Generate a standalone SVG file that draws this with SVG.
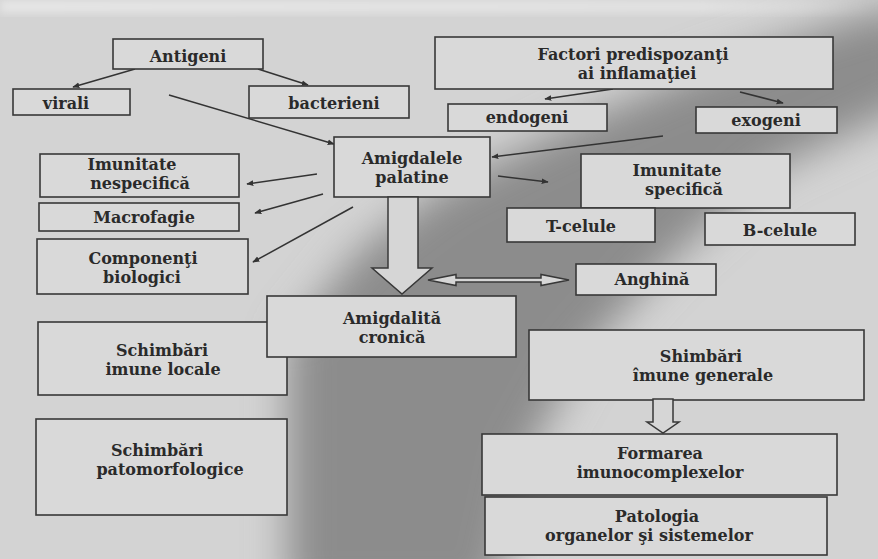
<svg xmlns="http://www.w3.org/2000/svg" width="878" height="559" viewBox="0 0 878 559">
<defs>
<style>
.box{fill:#d9d9d9;stroke:#383838;stroke-width:1.6}
.t{font-family:"DejaVu Serif","Liberation Serif",serif;font-weight:bold;font-size:16px;fill:#2a2a2a;text-anchor:middle}
.ln{stroke:#333;stroke-width:1.5;fill:none;marker-end:url(#ah)}
.hollow{fill:#d6d6d6;stroke:#383838;stroke-width:1.5;stroke-linejoin:miter}
</style>
<marker id="ah" viewBox="0 0 10 10" refX="9" refY="5" markerWidth="7" markerHeight="7" markerUnits="userSpaceOnUse" orient="auto">
<path d="M0,1 L10,5 L0,9 Z" fill="#333"/>
</marker>
<linearGradient id="top" x1="0" y1="0" x2="1" y2="0">
<stop offset="0" stop-color="#e6e6e6"/>
<stop offset="0.8" stop-color="#e2e2e2"/>
<stop offset="1" stop-color="#e2e2e2" stop-opacity="0"/>
</linearGradient>
<filter id="blur" x="-30%" y="-30%" width="160%" height="160%">
<feGaussianBlur stdDeviation="20"/>
</filter>
<filter id="blur2" x="-30%" y="-30%" width="160%" height="160%">
<feGaussianBlur stdDeviation="4"/>
</filter>
</defs>
<rect x="0" y="0" width="878" height="559" fill="#d3d3d3"/>
<path d="M288,600 L288,340 L360,250 L440,190 L560,130 L700,70 L878,10 L920,10 L920,100 L770,170 L660,270 L580,360 L525,460 L495,600 Z" fill="#8c8c8c" filter="url(#blur)"/>
<rect x="0" y="0" width="878" height="13" fill="url(#top)" filter="url(#blur2)"/>

<g id="connectors">
<line class="ln" x1="135" y1="69" x2="73" y2="87"/>
<line class="ln" x1="258" y1="69" x2="308" y2="85"/>
<line class="ln" x1="169" y1="95" x2="334" y2="144"/>
<line class="ln" x1="613" y1="89" x2="545" y2="99"/>
<line class="ln" x1="740" y1="92" x2="783" y2="103"/>
<line class="ln" x1="663" y1="136" x2="492" y2="157"/>
<line class="ln" x1="498" y1="176" x2="548" y2="182"/>
<line class="ln" x1="317" y1="174" x2="247" y2="184"/>
<line class="ln" x1="323" y1="194" x2="255" y2="213"/>
<line class="ln" x1="353" y1="207" x2="253" y2="262"/>
<path class="hollow" d="M428,280 L456,274.5 L456,278 L541,278 L541,274.5 L569,280 L541,285.5 L541,282 L456,282 L456,285.5 Z"/>
</g>

<g id="n-antigeni"><rect class="box" x="113" y="39" width="150" height="30"/><text class="t" x="188" y="62">Antigeni</text></g>
<g id="n-virali"><rect class="box" x="13" y="89" width="117" height="26"/><text class="t" x="66" y="109">virali</text></g>
<g id="n-bacterieni"><rect class="box" x="249" y="86" width="160" height="32"/><text class="t" x="334" y="109">bacterieni</text></g>
<g id="n-factori"><rect class="box" x="435" y="37" width="398" height="52"/><text class="t" x="633" y="60">Factori predispozanţi</text><text class="t" x="637" y="79">ai inflamaţiei</text></g>
<g id="n-endogeni"><rect class="box" x="448" y="104" width="159" height="27"/><text class="t" x="527" y="123">endogeni</text></g>
<g id="n-exogeni"><rect class="box" x="696" y="107" width="141" height="26"/><text class="t" x="766" y="126">exogeni</text></g>
<g id="n-amigdalele"><rect class="box" x="334" y="137" width="156" height="60"/><text class="t" x="412" y="164">Amigdalele</text><text class="t" x="412" y="183">palatine</text></g>
<g id="n-nespecifica"><rect class="box" x="40" y="154" width="199" height="43"/><text class="t" x="132" y="170">Imunitate</text><text class="t" x="140" y="189">nespecifică</text></g>
<g id="n-macrofagie"><rect class="box" x="39" y="203" width="200" height="28"/><text class="t" x="144" y="223">Macrofagie</text></g>
<g id="n-componenti"><rect class="box" x="37" y="239" width="211" height="55"/><text class="t" x="143" y="264">Componenţi</text><text class="t" x="142" y="283">biologici</text></g>
<g id="n-specifica"><rect class="box" x="581" y="154" width="209" height="54"/><text class="t" x="677" y="176">Imunitate</text><text class="t" x="684" y="195">specifică</text></g>
<g id="n-tcelule"><rect class="box" x="507" y="208" width="148" height="34"/><text class="t" x="581" y="232">T-celule</text></g>
<g id="n-bcelule"><rect class="box" x="705" y="213" width="150" height="32"/><text class="t" x="780" y="236">B-celule</text></g>
<g id="n-anghina"><rect class="box" x="576" y="264" width="140" height="31"/><text class="t" x="652" y="285">Anghină</text></g>
<g id="n-locale"><rect class="box" x="38" y="322" width="249" height="73"/><text class="t" x="162" y="356">Schimbări</text><text class="t" x="163" y="375">imune locale</text></g>
<g id="n-cronica"><rect class="box" x="267" y="296" width="249" height="61"/><text class="t" x="392" y="324">Amigdalită</text><text class="t" x="392" y="343">cronică</text></g>
<g id="n-big-arrow"><path class="hollow" d="M388,197 L418,197 L418,268 L432,268 L402,294 L372,268 L388,268 Z"/></g>
<g id="n-patomorf"><rect class="box" x="36" y="419" width="251" height="96"/><text class="t" x="157" y="456">Schimbări</text><text class="t" x="170" y="475">patomorfologice</text></g>
<g id="n-generale"><rect class="box" x="529" y="330" width="335" height="70"/><text class="t" x="701" y="362">Shimbări</text><text class="t" x="703" y="381">îmune generale</text></g>
<g id="n-small-arrow"><path class="hollow" d="M653,399 L673,399 L673,422 L679,422 L663,433 L647,422 L653,422 Z"/></g>
<g id="n-formarea"><rect class="box" x="482" y="434" width="355" height="61"/><text class="t" x="660" y="459">Formarea</text><text class="t" x="660" y="478">imunocomplexelor</text></g>
<g id="n-patologia"><rect class="box" x="485" y="497" width="342" height="58"/><text class="t" x="657" y="522">Patologia</text><text class="t" x="649" y="541">organelor şi sistemelor</text></g>
</svg>
